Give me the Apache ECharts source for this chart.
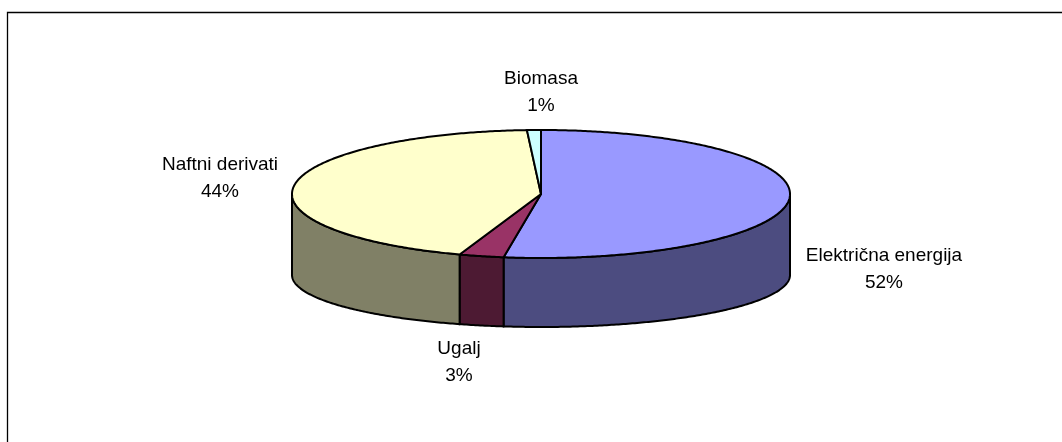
<!DOCTYPE html>
<html>
<head>
<meta charset="utf-8">
<title>Potrošnja energije</title>
<script src="https://cdn.jsdelivr.net/npm/echarts@6/dist/echarts.min.js"></script>
<style>
  html, body { margin: 0; padding: 0; background: #fff; }
  #chart { width: 1062px; height: 442px; }
</style>
</head>
<body>
<div id="chart"></div>
<script>
// podaci
const categories = ['Električna energija', 'Ugalj', 'Naftni derivati', 'Biomasa']
const values = [52.4, 2.9, 43.8, 0.9]

// boje (gornja ploha / bočna strana)
const topColors = ['#9999ff', '#993366', '#ffffcc', '#ccffff']
const sideColors = ['#4c4c80', '#4d1a33', '#808066', '#668080']

// izgled 3D pite
const pie = { cx: 541, rx: 249, topY: 194, topRy: 64, botY: 275, botRy: 52 }
const labelAt = [[884, 269], [459, 362], [220, 178], [541, 92]]

const total = values.reduce((s, v) => s + v, 0)

function topPoint(a) {
  return [pie.cx + pie.rx * Math.sin(a), pie.topY - pie.topRy * Math.cos(a)]
}
function botPoint(a) {
  return [pie.cx + pie.rx * Math.sin(a), pie.botY - pie.botRy * Math.cos(a)]
}
function arc(fn, a0, a1) {
  const pts = []
  const n = Math.max(2, Math.ceil(Math.abs(a1 - a0) / 0.01))
  for (let k = 0; k <= n; k++) {
    pts.push(fn(a0 + (a1 - a0) * k / n))
  }
  return pts
}

const chart = echarts.init(document.getElementById('chart'))

const option = {
  animation: false,
  graphic: [
    {
      type: 'rect',
      shape: { x: 7.5, y: 12.5, width: 1200, height: 600 },
      style: { fill: 'none', stroke: '#000', lineWidth: 1.3 },
      silent: true
    }
  ],
  series: [
    {
      type: 'custom',
      coordinateSystem: 'none',
      data: values.map((v, i) => ({ name: categories[i], value: v })),
      renderItem: (params, api) => {
        const i = params.dataIndex
        const v = api.value(0)
        let start = 0
        for (let j = 0; j < i; j++) start += values[j]
        const a0 = start / total * Math.PI * 2
        const a1 = (start + v) / total * Math.PI * 2
        const children = []

        // bočna strana (samo prednja polovica je vidljiva)
        const s = Math.max(a0, Math.PI / 2)
        const e = Math.min(a1, Math.PI * 1.5)
        if (e > s) {
          const pts = arc(topPoint, s, e).concat(arc(botPoint, e, s))
          children.push({
            type: 'polygon',
            shape: { points: pts },
            style: { fill: sideColors[i], stroke: '#000', lineWidth: 2, lineJoin: 'round' }
          })
        }

        // gornja ploha
        const topPts = [[pie.cx, pie.topY]].concat(arc(topPoint, a0, a1))
        children.push({
          type: 'polygon',
          shape: { points: topPts },
          style: { fill: topColors[i], stroke: '#000', lineWidth: 2, lineJoin: 'round' }
        })

        // oznaka
        const pct = Math.round(v / total * 100)
        children.push({
          type: 'text',
          style: {
            text: categories[i] + '\n' + pct + '%',
            x: labelAt[i][0],
            y: labelAt[i][1],
            align: 'center',
            verticalAlign: 'middle',
            fill: '#000',
            font: '19px "Liberation Sans", Arial, sans-serif',
            lineHeight: 27
          }
        })

        return { type: 'group', children: children }
      }
    }
  ]
}

chart.setOption(option)
</script>
</body>
</html>
